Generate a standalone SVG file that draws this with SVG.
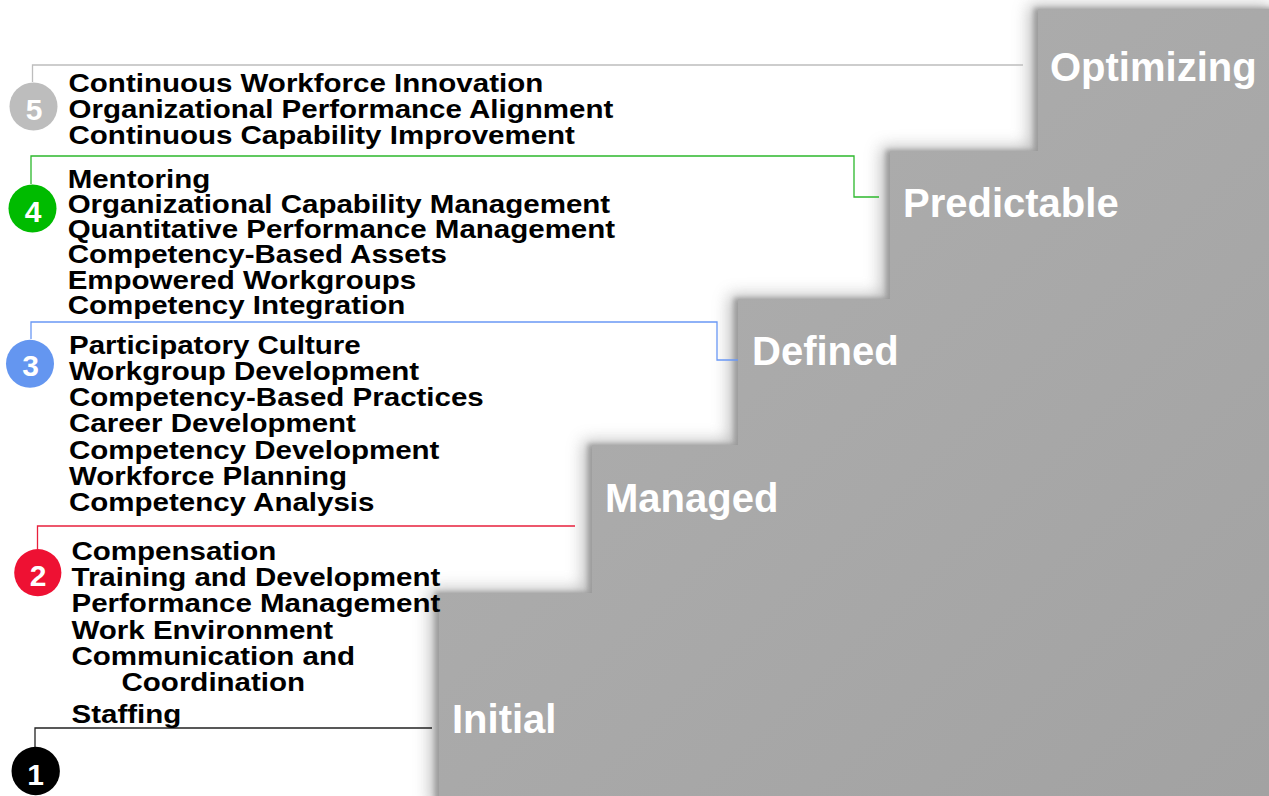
<svg xmlns="http://www.w3.org/2000/svg" width="1269" height="796" viewBox="0 0 1269 796">
  <style>
    .item { font-family: "Liberation Sans", Arial, sans-serif; font-weight: bold; font-size: 26px; fill: #000; }
    .stage { font-family: "Liberation Sans", Arial, sans-serif; font-weight: bold; font-size: 40px; fill: #fff; }
    .num { font-family: "Liberation Sans", Arial, sans-serif; font-weight: bold; font-size: 30px; fill: #fff; text-anchor: middle; }
    .conn { fill: none; stroke-width: 1.3; }
  </style>
  <defs>
    <linearGradient id="stepFill" x1="0" y1="0" x2="1" y2="1">
      <stop offset="0" stop-color="#b0b0b0"/>
      <stop offset="1" stop-color="#a2a2a2"/>
    </linearGradient>
    <filter id="soft" x="-10%" y="-10%" width="120%" height="120%">
      <feGaussianBlur stdDeviation="8"/>
    </filter>
    <filter id="tight" x="-10%" y="-10%" width="120%" height="120%">
      <feGaussianBlur stdDeviation="2.5"/>
    </filter>
  </defs>
  <rect width="1269" height="796" fill="#fff"/>

  <g id="stairs">
    <polygon transform="translate(-9,-4)" points="439,810 439,593 592,593 592,445 738,445 738,299 890,299 890,151 1038,151 1038,9 1280,9 1280,810" fill="#a0a0a0" opacity="0.7" filter="url(#soft)"/>
    <polygon transform="translate(-4,-1)" points="439,810 439,593 592,593 592,445 738,445 738,299 890,299 890,151 1038,151 1038,9 1280,9 1280,810" fill="#979797" opacity="0.9" filter="url(#tight)"/>
    <polygon points="439,796 439,593 592,593 592,445 738,445 738,299 890,299 890,151 1038,151 1038,9 1269,9 1269,796" fill="url(#stepFill)"/>
  </g>

  <g id="connectors">
    <path class="conn" stroke="#bdbdbd" d="M32.5,82 V65 H1023"/>
    <path class="conn" stroke="#2cb82c" d="M31,184 V156 H854 V197 H879"/>
    <path class="conn" stroke="#6a98f5" d="M31,339 V322 H717 V360 H738"/>
    <path class="conn" stroke="#e8203c" d="M37.5,549 V526 H575"/>
    <path class="conn" stroke="#222" d="M35,747 V728 H432"/>
  </g>

  <g id="level-5">
    <circle cx="33.5" cy="106.5" r="24" fill="#bdbdbd"/>
    <text class="num" x="34" y="120">5</text>
    <g transform="scale(1.135,1)">
      <text class="item" x="60.4" y="92.5">Continuous Workforce Innovation</text>
      <text class="item" x="60.4" y="118.5">Organizational Performance Alignment</text>
      <text class="item" x="60.4" y="144.5">Continuous Capability Improvement</text>
    </g>
    <text class="stage" x="1050" y="81">Optimizing</text>
  </g>

  <g id="level-4">
    <circle cx="32.5" cy="208.5" r="24" fill="#00bb00"/>
    <text class="num" x="33" y="221.5">4</text>
    <g transform="scale(1.135,1)">
      <text class="item" x="59.6" y="187.7">Mentoring</text>
      <text class="item" x="59.6" y="213">Organizational Capability Management</text>
      <text class="item" x="59.6" y="238.5">Quantitative Performance Management</text>
      <text class="item" x="59.6" y="263.5">Competency-Based Assets</text>
      <text class="item" x="59.6" y="289">Empowered Workgroups</text>
      <text class="item" x="59.6" y="314.3">Competency Integration</text>
    </g>
    <text class="stage" x="903" y="217">Predictable</text>
  </g>

  <g id="level-3">
    <circle cx="30" cy="363.8" r="24" fill="#6496f0"/>
    <text class="num" x="30.5" y="376">3</text>
    <g transform="scale(1.135,1)">
      <text class="item" x="60.8" y="354">Participatory Culture</text>
      <text class="item" x="60.8" y="380">Workgroup Development</text>
      <text class="item" x="60.8" y="406">Competency-Based Practices</text>
      <text class="item" x="60.8" y="432">Career Development</text>
      <text class="item" x="60.8" y="459">Competency Development</text>
      <text class="item" x="60.8" y="485">Workforce Planning</text>
      <text class="item" x="60.8" y="511">Competency Analysis</text>
    </g>
    <text class="stage" x="752" y="365">Defined</text>
  </g>

  <g id="level-2">
    <circle cx="37.8" cy="572.7" r="23.6" fill="#ee1133"/>
    <text class="num" x="38" y="586">2</text>
    <g transform="scale(1.135,1)">
      <text class="item" x="63" y="560">Compensation</text>
      <text class="item" x="63" y="586.5">Training and Development</text>
      <text class="item" x="63" y="612.5">Performance Management</text>
      <text class="item" x="63" y="639">Work Environment</text>
      <text class="item" x="63" y="664.7">Communication and</text>
      <text class="item" x="107.1" y="691">Coordination</text>
    </g>
    <text class="stage" x="605" y="511.5">Managed</text>
  </g>

  <g id="level-1">
    <circle cx="35.7" cy="771" r="24.2" fill="#000"/>
    <text class="num" x="35.7" y="785">1</text>
    <g transform="scale(1.135,1)">
      <text class="item" x="63" y="722.7">Staffing</text>
    </g>
    <text class="stage" x="452" y="733.3">Initial</text>
  </g>
</svg>
